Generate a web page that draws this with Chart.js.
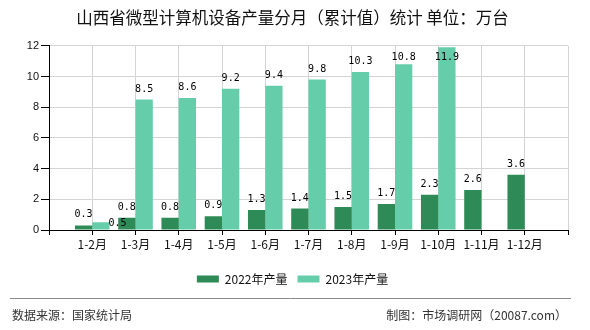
<!DOCTYPE html>
<html>
<head>
<meta charset="utf-8">
<script src="https://cdn.jsdelivr.net/npm/chart.js@4/dist/chart.umd.min.js"></script>
<style>
  html, body { margin: 0; padding: 0; background: #ffffff; }
  #wrap { width: 590px; height: 330px; position: relative; }
</style>
</head>
<body>
<div id="wrap"><canvas id="c" width="590" height="330"></canvas></div>
<script>
const titleText = '山西省微型计算机设备产量分月（累计值）统计 单位：万台';
const categories = ['1-2月', '1-3月', '1-4月', '1-5月', '1-6月', '1-7月', '1-8月', '1-9月', '1-10月', '1-11月', '1-12月'];
const values2022 = [0.3, 0.8, 0.8, 0.9, 1.3, 1.4, 1.5, 1.7, 2.3, 2.6, 3.6];
const values2023 = [0.5, 8.5, 8.6, 9.2, 9.4, 9.8, 10.3, 10.8, 11.9, null, null];
const seriesNames = ['2022年产量', '2023年产量'];
const yTicks = [0, 2, 4, 6, 8, 10, 12];
const sourceText = '数据来源：国家统计局';
const creditText = '制图：市场调研网（20087.com）';

const COLOR_2022 = '#2e8b57';
const COLOR_2023 = '#66cdaa';
const CJK = '"Noto Sans CJK SC", "Liberation Sans", sans-serif';

// padded slots so that categories sit on the inner grid lines
const labels = [''].concat(categories, ['']);
const pad = arr => [null].concat(arr, [null]);

const valueLabels = {
  id: 'valueLabels',
  afterDatasetsDraw(chart) {
    const ctx = chart.ctx;
    const area = chart.chartArea;
    ctx.save();
    ctx.font = '10px "DejaVu Sans Mono", monospace';
    ctx.fillStyle = '#000';
    ctx.textAlign = 'center';
    ctx.textBaseline = 'alphabetic';
    const m0 = chart.getDatasetMeta(0);
    const m1 = chart.getDatasetMeta(1);
    const base = (meta, i) => {
      const el = meta.data[i];
      const v = chart.data.datasets[meta.index].data[i];
      if (v === null || v === undefined || !el) return null;
      let y = el.y - 8;
      if (y - 8 < area.top + 5) y = area.top + 14;
      return { el, v, x: el.x, y, text: v.toFixed(1) };
    };
    for (let i = 0; i < labels.length; i++) {
      const a = base(m0, i);
      const b = base(m1, i);
      if (a) ctx.fillText(a.text, a.x, a.y);
      if (b) {
        let x = b.x, y = b.y;
        if (a && Math.abs(a.y - b.y) < 9) {
          const w = ctx.measureText(b.text).width;
          x = b.el.x + b.el.width / 2 + w / 2 - 1;
          y = b.el.y + 4;
        }
        ctx.fillText(b.text, x, y);
      }
    }
    ctx.restore();
  }
};

const footer = {
  id: 'footer',
  afterDraw(chart) {
    const ctx = chart.ctx;
    ctx.save();
    ctx.strokeStyle = '#8a8a8a';
    ctx.lineWidth = 1;
    ctx.beginPath();
    ctx.moveTo(10, 298.5);
    ctx.lineTo(571, 298.5);
    ctx.stroke();
    ctx.font = '12px ' + CJK;
    ctx.fillStyle = '#333';
    ctx.textBaseline = 'middle';
    ctx.textAlign = 'left';
    ctx.fillText(sourceText, 12, 315);
    ctx.textAlign = 'right';
    ctx.fillText(creditText, 567, 315);
    ctx.restore();
  }
};

const whiteBg = {
  id: 'whiteBg',
  beforeDraw(chart) {
    const ctx = chart.ctx;
    ctx.save();
    ctx.fillStyle = '#fff';
    ctx.fillRect(0, 0, chart.width, chart.height);
    ctx.restore();
  }
};

new Chart(document.getElementById('c'), {
  type: 'bar',
  data: {
    labels: labels,
    datasets: [
      { label: seriesNames[0], data: pad(values2022), backgroundColor: COLOR_2022, borderWidth: 0 },
      { label: seriesNames[1], data: pad(values2023), backgroundColor: COLOR_2023, borderWidth: 0 }
    ]
  },
  options: {
    responsive: false,
    animation: false,
    devicePixelRatio: 1,
    layout: { padding: { left: 17, right: 22, top: 0, bottom: 35 } },
    datasets: { bar: { categoryPercentage: 0.8, barPercentage: 1.0 } },
    plugins: {
      title: {
        display: true,
        text: titleText,
        color: '#111',
        font: { family: CJK, size: 16.5, weight: 'normal', lineHeight: 1.2 },
        padding: { top: 8, bottom: 18 }
      },
      legend: {
        display: true,
        position: 'bottom',
        labels: {
          boxWidth: 22,
          boxHeight: 7,
          padding: 10,
          color: '#111',
          font: { family: CJK, size: 12 }
        }
      },
      tooltip: { enabled: false }
    },
    scales: {
      x: {
        type: 'category',
        offset: false,
        grid: { offset: false, color: '#d4d4d4', tickColor: '#000', tickLength: 5, drawOnChartArea: true },
        border: { color: '#000', width: 1 },
        ticks: {
          autoSkip: false,
          maxRotation: 0,
          padding: 2,
          color: '#111',
          font: { family: CJK, size: 12 }
        },
        afterFit(scale) { scale.height = 33; }
      },
      y: {
        min: 0,
        max: 12,
        afterBuildTicks(scale) { scale.ticks = yTicks.map(v => ({ value: v })); },
        grid: { color: '#d4d4d4', tickColor: '#000', tickLength: 8 },
        border: { color: '#000', width: 1 },
        ticks: {
          padding: 2,
          color: '#111',
          font: { family: '"Liberation Sans", sans-serif', size: 11 }
        },
        afterFit(scale) { scale.width = 32; }
      }
    }
  },
  plugins: [whiteBg, valueLabels, footer]
});
</script>
</body>
</html>
